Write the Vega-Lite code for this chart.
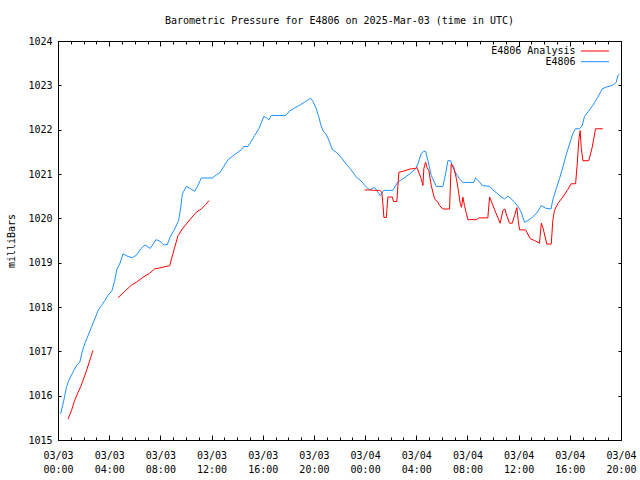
{
  "$schema": "https://vega.github.io/schema/vega-lite/v6.json",
  "autosize": "none",
  "width": 563,
  "height": 399,
  "padding": {"left": 58, "top": 41, "right": 19, "bottom": 40},
  "background": "white",
  "title": {"text": "Barometric Pressure for E4806 on 2025-Mar-03 (time in UTC)", "font": "DejaVu Sans Mono", "fontSize": 10, "fontWeight": "normal", "color": "black", "offset": 10, "anchor": "middle"},
  "config": {
    "view": {"stroke": "black", "strokeWidth": 1},
    "axis": {"grid": false, "domain": false, "labelFont": "DejaVu Sans Mono", "labelFontSize": 10, "labelColor": "black", "titleFont": "DejaVu Sans Mono", "titleFontSize": 10, "titleFontWeight": "normal", "titleColor": "black", "tickColor": "black", "labelOverlap": false, "labelFlush": false},
    "legend": {"labelFont": "DejaVu Sans Mono", "labelFontSize": 10, "labelColor": "black"}
  },
  "data": {"values": [
    {"series":"E4806","seg":"b","hour":0.21,"mbar":1015.59},{"series":"E4806","seg":"b","hour":0.45,"mbar":1015.89},{"series":"E4806","seg":"b","hour":0.66,"mbar":1016.19},{"series":"E4806","seg":"b","hour":0.84,"mbar":1016.34},{"series":"E4806","seg":"b","hour":1.17,"mbar":1016.53},{"series":"E4806","seg":"b","hour":1.44,"mbar":1016.68},{"series":"E4806","seg":"b","hour":1.70,"mbar":1016.75},{"series":"E4806","seg":"b","hour":1.88,"mbar":1016.98},{"series":"E4806","seg":"b","hour":2.09,"mbar":1017.17},{"series":"E4806","seg":"b","hour":2.34,"mbar":1017.35},{"series":"E4806","seg":"b","hour":2.61,"mbar":1017.54},{"series":"E4806","seg":"b","hour":2.87,"mbar":1017.73},{"series":"E4806","seg":"b","hour":3.13,"mbar":1017.92},{"series":"E4806","seg":"b","hour":3.39,"mbar":1018.03},{"series":"E4806","seg":"b","hour":3.65,"mbar":1018.14},{"series":"E4806","seg":"b","hour":3.91,"mbar":1018.26},{"series":"E4806","seg":"b","hour":4.22,"mbar":1018.37},{"series":"E4806","seg":"b","hour":4.43,"mbar":1018.60},{"series":"E4806","seg":"b","hour":4.61,"mbar":1018.86},{"series":"E4806","seg":"b","hour":4.82,"mbar":1018.97},{"series":"E4806","seg":"b","hour":5.08,"mbar":1019.20},{"series":"E4806","seg":"b","hour":5.47,"mbar":1019.14},{"series":"E4806","seg":"b","hour":5.80,"mbar":1019.11},{"series":"E4806","seg":"b","hour":6.13,"mbar":1019.17},{"series":"E4806","seg":"b","hour":6.46,"mbar":1019.31},{"series":"E4806","seg":"b","hour":6.80,"mbar":1019.40},{"series":"E4806","seg":"b","hour":7.20,"mbar":1019.32},{"series":"E4806","seg":"b","hour":7.67,"mbar":1019.52},{"series":"E4806","seg":"b","hour":7.98,"mbar":1019.48},{"series":"E4806","seg":"b","hour":8.27,"mbar":1019.40},{"series":"E4806","seg":"b","hour":8.55,"mbar":1019.41},{"series":"E4806","seg":"b","hour":8.73,"mbar":1019.56},{"series":"E4806","seg":"b","hour":9.12,"mbar":1019.76},{"series":"E4806","seg":"b","hour":9.43,"mbar":1019.95},{"series":"E4806","seg":"b","hour":9.59,"mbar":1020.25},{"series":"E4806","seg":"b","hour":9.72,"mbar":1020.55},{"series":"E4806","seg":"b","hour":10.03,"mbar":1020.72},{"series":"E4806","seg":"b","hour":10.34,"mbar":1020.67},{"series":"E4806","seg":"b","hour":10.68,"mbar":1020.61},{"series":"E4806","seg":"b","hour":10.94,"mbar":1020.74},{"series":"E4806","seg":"b","hour":11.20,"mbar":1020.91},{"series":"E4806","seg":"b","hour":12.06,"mbar":1020.91},{"series":"E4806","seg":"b","hour":12.38,"mbar":1020.98},{"series":"E4806","seg":"b","hour":12.63,"mbar":1021.02},{"series":"E4806","seg":"b","hour":12.89,"mbar":1021.14},{"series":"E4806","seg":"b","hour":13.28,"mbar":1021.32},{"series":"E4806","seg":"b","hour":13.67,"mbar":1021.41},{"series":"E4806","seg":"b","hour":14.06,"mbar":1021.49},{"series":"E4806","seg":"b","hour":14.35,"mbar":1021.55},{"series":"E4806","seg":"b","hour":14.51,"mbar":1021.62},{"series":"E4806","seg":"b","hour":14.84,"mbar":1021.62},{"series":"E4806","seg":"b","hour":15.11,"mbar":1021.74},{"series":"E4806","seg":"b","hour":15.37,"mbar":1021.87},{"series":"E4806","seg":"b","hour":15.70,"mbar":1022.02},{"series":"E4806","seg":"b","hour":16.09,"mbar":1022.30},{"series":"E4806","seg":"b","hour":16.28,"mbar":1022.27},{"series":"E4806","seg":"b","hour":16.48,"mbar":1022.22},{"series":"E4806","seg":"b","hour":16.67,"mbar":1022.32},{"series":"E4806","seg":"b","hour":17.79,"mbar":1022.32},{"series":"E4806","seg":"b","hour":18.10,"mbar":1022.42},{"series":"E4806","seg":"b","hour":18.49,"mbar":1022.49},{"series":"E4806","seg":"b","hour":18.88,"mbar":1022.55},{"series":"E4806","seg":"b","hour":19.27,"mbar":1022.62},{"series":"E4806","seg":"b","hour":19.74,"mbar":1022.71},{"series":"E4806","seg":"b","hour":19.92,"mbar":1022.64},{"series":"E4806","seg":"b","hour":20.19,"mbar":1022.47},{"series":"E4806","seg":"b","hour":20.39,"mbar":1022.28},{"series":"E4806","seg":"b","hour":20.52,"mbar":1022.13},{"series":"E4806","seg":"b","hour":20.70,"mbar":1021.98},{"series":"E4806","seg":"b","hour":20.97,"mbar":1021.89},{"series":"E4806","seg":"b","hour":21.17,"mbar":1021.76},{"series":"E4806","seg":"b","hour":21.44,"mbar":1021.55},{"series":"E4806","seg":"b","hour":21.75,"mbar":1021.49},{"series":"E4806","seg":"b","hour":22.14,"mbar":1021.37},{"series":"E4806","seg":"b","hour":22.53,"mbar":1021.22},{"series":"E4806","seg":"b","hour":22.92,"mbar":1021.09},{"series":"E4806","seg":"b","hour":23.31,"mbar":1020.93},{"series":"E4806","seg":"b","hour":23.70,"mbar":1020.84},{"series":"E4806","seg":"b","hour":24.04,"mbar":1020.72},{"series":"E4806","seg":"b","hour":24.35,"mbar":1020.64},{"series":"E4806","seg":"b","hour":24.74,"mbar":1020.70},{"series":"E4806","seg":"b","hour":25.00,"mbar":1020.59},{"series":"E4806","seg":"b","hour":25.19,"mbar":1020.51},{"series":"E4806","seg":"b","hour":25.45,"mbar":1020.63},{"series":"E4806","seg":"b","hour":26.17,"mbar":1020.63},{"series":"E4806","seg":"b","hour":26.56,"mbar":1020.82},{"series":"E4806","seg":"b","hour":26.95,"mbar":1020.89},{"series":"E4806","seg":"b","hour":27.48,"mbar":1021.00},{"series":"E4806","seg":"b","hour":27.95,"mbar":1021.12},{"series":"E4806","seg":"b","hour":28.13,"mbar":1021.23},{"series":"E4806","seg":"b","hour":28.39,"mbar":1021.46},{"series":"E4806","seg":"b","hour":28.57,"mbar":1021.51},{"series":"E4806","seg":"b","hour":28.73,"mbar":1021.51},{"series":"E4806","seg":"b","hour":28.91,"mbar":1021.30},{"series":"E4806","seg":"b","hour":29.17,"mbar":1020.97},{"series":"E4806","seg":"b","hour":29.56,"mbar":1020.72},{"series":"E4806","seg":"b","hour":30.08,"mbar":1020.72},{"series":"E4806","seg":"b","hour":30.29,"mbar":1021.00},{"series":"E4806","seg":"b","hour":30.47,"mbar":1021.30},{"series":"E4806","seg":"b","hour":30.68,"mbar":1021.30},{"series":"E4806","seg":"b","hour":30.86,"mbar":1021.15},{"series":"E4806","seg":"b","hour":31.13,"mbar":1021.00},{"series":"E4806","seg":"b","hour":31.38,"mbar":1020.89},{"series":"E4806","seg":"b","hour":31.64,"mbar":1020.81},{"series":"E4806","seg":"b","hour":32.48,"mbar":1020.81},{"series":"E4806","seg":"b","hour":32.63,"mbar":1020.91},{"series":"E4806","seg":"b","hour":32.89,"mbar":1020.84},{"series":"E4806","seg":"b","hour":33.16,"mbar":1020.74},{"series":"E4806","seg":"b","hour":33.73,"mbar":1020.72},{"series":"E4806","seg":"b","hour":33.98,"mbar":1020.64},{"series":"E4806","seg":"b","hour":34.38,"mbar":1020.55},{"series":"E4806","seg":"b","hour":34.64,"mbar":1020.48},{"series":"E4806","seg":"b","hour":34.90,"mbar":1020.44},{"series":"E4806","seg":"b","hour":35.16,"mbar":1020.50},{"series":"E4806","seg":"b","hour":35.42,"mbar":1020.44},{"series":"E4806","seg":"b","hour":35.68,"mbar":1020.36},{"series":"E4806","seg":"b","hour":35.94,"mbar":1020.27},{"series":"E4806","seg":"b","hour":36.20,"mbar":1020.14},{"series":"E4806","seg":"b","hour":36.46,"mbar":1019.91},{"series":"E4806","seg":"b","hour":36.72,"mbar":1019.95},{"series":"E4806","seg":"b","hour":37.06,"mbar":1020.02},{"series":"E4806","seg":"b","hour":37.42,"mbar":1020.12},{"series":"E4806","seg":"b","hour":37.77,"mbar":1020.29},{"series":"E4806","seg":"b","hour":38.10,"mbar":1020.23},{"series":"E4806","seg":"b","hour":38.53,"mbar":1020.21},{"series":"E4806","seg":"b","hour":38.67,"mbar":1020.42},{"series":"E4806","seg":"b","hour":38.94,"mbar":1020.67},{"series":"E4806","seg":"b","hour":39.20,"mbar":1020.90},{"series":"E4806","seg":"b","hour":39.47,"mbar":1021.17},{"series":"E4806","seg":"b","hour":39.72,"mbar":1021.44},{"series":"E4806","seg":"b","hour":40.03,"mbar":1021.72},{"series":"E4806","seg":"b","hour":40.23,"mbar":1021.91},{"series":"E4806","seg":"b","hour":40.45,"mbar":1022.02},{"series":"E4806","seg":"b","hour":40.76,"mbar":1022.02},{"series":"E4806","seg":"b","hour":40.97,"mbar":1022.09},{"series":"E4806","seg":"b","hour":41.15,"mbar":1022.30},{"series":"E4806","seg":"b","hour":41.41,"mbar":1022.40},{"series":"E4806","seg":"b","hour":41.80,"mbar":1022.55},{"series":"E4806","seg":"b","hour":42.19,"mbar":1022.73},{"series":"E4806","seg":"b","hour":42.53,"mbar":1022.92},{"series":"E4806","seg":"b","hour":42.84,"mbar":1022.96},{"series":"E4806","seg":"b","hour":43.36,"mbar":1023.00},{"series":"E4806","seg":"b","hour":43.63,"mbar":1023.07},{"series":"E4806","seg":"b","hour":43.75,"mbar":1023.22},{"series":"E4806","seg":"b","hour":43.89,"mbar":1023.25},
    {"series":"E4806 Analysis","seg":"r1","hour":0.78,"mbar":1015.47},{"series":"E4806 Analysis","seg":"r1","hour":1.05,"mbar":1015.66},{"series":"E4806 Analysis","seg":"r1","hour":1.30,"mbar":1015.89},{"series":"E4806 Analysis","seg":"r1","hour":1.56,"mbar":1016.07},{"series":"E4806 Analysis","seg":"r1","hour":1.77,"mbar":1016.20},{"series":"E4806 Analysis","seg":"r1","hour":1.95,"mbar":1016.34},{"series":"E4806 Analysis","seg":"r1","hour":2.22,"mbar":1016.56},{"series":"E4806 Analysis","seg":"r1","hour":2.48,"mbar":1016.79},{"series":"E4806 Analysis","seg":"r1","hour":2.73,"mbar":1017.02},
    {"series":"E4806 Analysis","seg":"r2","hour":4.69,"mbar":1018.21},{"series":"E4806 Analysis","seg":"r2","hour":5.21,"mbar":1018.35},{"series":"E4806 Analysis","seg":"r2","hour":5.73,"mbar":1018.49},{"series":"E4806 Analysis","seg":"r2","hour":6.13,"mbar":1018.56},{"series":"E4806 Analysis","seg":"r2","hour":6.64,"mbar":1018.67},{"series":"E4806 Analysis","seg":"r2","hour":7.16,"mbar":1018.76},{"series":"E4806 Analysis","seg":"r2","hour":7.55,"mbar":1018.86},{"series":"E4806 Analysis","seg":"r2","hour":7.95,"mbar":1018.88},{"series":"E4806 Analysis","seg":"r2","hour":8.34,"mbar":1018.91},{"series":"E4806 Analysis","seg":"r2","hour":8.73,"mbar":1018.93},{"series":"E4806 Analysis","seg":"r2","hour":8.98,"mbar":1019.20},{"series":"E4806 Analysis","seg":"r2","hour":9.38,"mbar":1019.61},{"series":"E4806 Analysis","seg":"r2","hour":9.72,"mbar":1019.76},{"series":"E4806 Analysis","seg":"r2","hour":10.08,"mbar":1019.89},{"series":"E4806 Analysis","seg":"r2","hour":10.42,"mbar":1020.01},{"series":"E4806 Analysis","seg":"r2","hour":10.81,"mbar":1020.14},{"series":"E4806 Analysis","seg":"r2","hour":11.20,"mbar":1020.21},{"series":"E4806 Analysis","seg":"r2","hour":11.54,"mbar":1020.31},{"series":"E4806 Analysis","seg":"r2","hour":11.80,"mbar":1020.40},
    {"series":"E4806 Analysis","seg":"r3","hour":23.96,"mbar":1020.64},{"series":"E4806 Analysis","seg":"r3","hour":24.35,"mbar":1020.64},{"series":"E4806 Analysis","seg":"r3","hour":24.74,"mbar":1020.63},{"series":"E4806 Analysis","seg":"r3","hour":25.13,"mbar":1020.63},{"series":"E4806 Analysis","seg":"r3","hour":25.31,"mbar":1020.59},{"series":"E4806 Analysis","seg":"r3","hour":25.39,"mbar":1020.33},{"series":"E4806 Analysis","seg":"r3","hour":25.47,"mbar":1020.02},{"series":"E4806 Analysis","seg":"r3","hour":25.66,"mbar":1020.02},{"series":"E4806 Analysis","seg":"r3","hour":25.78,"mbar":1020.48},{"series":"E4806 Analysis","seg":"r3","hour":26.13,"mbar":1020.48},{"series":"E4806 Analysis","seg":"r3","hour":26.23,"mbar":1020.38},{"series":"E4806 Analysis","seg":"r3","hour":26.48,"mbar":1020.38},{"series":"E4806 Analysis","seg":"r3","hour":26.64,"mbar":1021.04},{"series":"E4806 Analysis","seg":"r3","hour":26.95,"mbar":1021.06},{"series":"E4806 Analysis","seg":"r3","hour":27.27,"mbar":1021.09},{"series":"E4806 Analysis","seg":"r3","hour":27.61,"mbar":1021.12},{"series":"E4806 Analysis","seg":"r3","hour":27.95,"mbar":1021.12},{"series":"E4806 Analysis","seg":"r3","hour":28.05,"mbar":1021.15},{"series":"E4806 Analysis","seg":"r3","hour":28.39,"mbar":1020.89},{"series":"E4806 Analysis","seg":"r3","hour":28.52,"mbar":1020.74},{"series":"E4806 Analysis","seg":"r3","hour":28.59,"mbar":1021.12},{"series":"E4806 Analysis","seg":"r3","hour":28.73,"mbar":1021.27},{"series":"E4806 Analysis","seg":"r3","hour":28.83,"mbar":1021.15},{"series":"E4806 Analysis","seg":"r3","hour":28.98,"mbar":1021.08},{"series":"E4806 Analysis","seg":"r3","hour":29.17,"mbar":1020.74},{"series":"E4806 Analysis","seg":"r3","hour":29.43,"mbar":1020.44},{"series":"E4806 Analysis","seg":"r3","hour":29.69,"mbar":1020.36},{"series":"E4806 Analysis","seg":"r3","hour":29.82,"mbar":1020.29},{"series":"E4806 Analysis","seg":"r3","hour":30.08,"mbar":1020.21},{"series":"E4806 Analysis","seg":"r3","hour":30.60,"mbar":1020.21},{"series":"E4806 Analysis","seg":"r3","hour":30.73,"mbar":1021.23},{"series":"E4806 Analysis","seg":"r3","hour":30.91,"mbar":1021.17},{"series":"E4806 Analysis","seg":"r3","hour":31.13,"mbar":1020.90},{"series":"E4806 Analysis","seg":"r3","hour":31.25,"mbar":1020.70},{"series":"E4806 Analysis","seg":"r3","hour":31.44,"mbar":1020.33},{"series":"E4806 Analysis","seg":"r3","hour":31.54,"mbar":1020.25},{"series":"E4806 Analysis","seg":"r3","hour":31.64,"mbar":1020.48},{"series":"E4806 Analysis","seg":"r3","hour":31.77,"mbar":1020.29},{"series":"E4806 Analysis","seg":"r3","hour":32.03,"mbar":1019.97},{"series":"E4806 Analysis","seg":"r3","hour":32.69,"mbar":1019.97},{"series":"E4806 Analysis","seg":"r3","hour":32.89,"mbar":1020.01},{"series":"E4806 Analysis","seg":"r3","hour":33.59,"mbar":1020.01},{"series":"E4806 Analysis","seg":"r3","hour":33.73,"mbar":1020.48},{"series":"E4806 Analysis","seg":"r3","hour":33.94,"mbar":1020.33},{"series":"E4806 Analysis","seg":"r3","hour":34.25,"mbar":1020.10},{"series":"E4806 Analysis","seg":"r3","hour":34.56,"mbar":1019.89},{"series":"E4806 Analysis","seg":"r3","hour":34.77,"mbar":1020.18},{"series":"E4806 Analysis","seg":"r3","hour":34.92,"mbar":1020.21},{"series":"E4806 Analysis","seg":"r3","hour":35.03,"mbar":1020.10},{"series":"E4806 Analysis","seg":"r3","hour":35.29,"mbar":1019.89},{"series":"E4806 Analysis","seg":"r3","hour":35.50,"mbar":1019.89},{"series":"E4806 Analysis","seg":"r3","hour":35.68,"mbar":1020.06},{"series":"E4806 Analysis","seg":"r3","hour":35.86,"mbar":1020.24},{"series":"E4806 Analysis","seg":"r3","hour":35.97,"mbar":1019.95},{"series":"E4806 Analysis","seg":"r3","hour":36.07,"mbar":1019.74},{"series":"E4806 Analysis","seg":"r3","hour":36.54,"mbar":1019.74},{"series":"E4806 Analysis","seg":"r3","hour":36.91,"mbar":1019.54},{"series":"E4806 Analysis","seg":"r3","hour":37.24,"mbar":1019.50},{"series":"E4806 Analysis","seg":"r3","hour":37.63,"mbar":1019.44},{"series":"E4806 Analysis","seg":"r3","hour":37.77,"mbar":1019.89},{"series":"E4806 Analysis","seg":"r3","hour":37.89,"mbar":1019.80},{"series":"E4806 Analysis","seg":"r3","hour":38.20,"mbar":1019.42},{"series":"E4806 Analysis","seg":"r3","hour":38.55,"mbar":1019.42},{"series":"E4806 Analysis","seg":"r3","hour":38.67,"mbar":1019.95},{"series":"E4806 Analysis","seg":"r3","hour":38.80,"mbar":1020.18},{"series":"E4806 Analysis","seg":"r3","hour":39.06,"mbar":1020.33},{"series":"E4806 Analysis","seg":"r3","hour":39.45,"mbar":1020.48},{"series":"E4806 Analysis","seg":"r3","hour":39.84,"mbar":1020.65},{"series":"E4806 Analysis","seg":"r3","hour":40.11,"mbar":1020.78},{"series":"E4806 Analysis","seg":"r3","hour":40.45,"mbar":1020.78},{"series":"E4806 Analysis","seg":"r3","hour":40.58,"mbar":1021.23},{"series":"E4806 Analysis","seg":"r3","hour":40.70,"mbar":1021.76},{"series":"E4806 Analysis","seg":"r3","hour":40.81,"mbar":1021.98},{"series":"E4806 Analysis","seg":"r3","hour":40.89,"mbar":1021.60},{"series":"E4806 Analysis","seg":"r3","hour":41.02,"mbar":1021.30},{"series":"E4806 Analysis","seg":"r3","hour":41.48,"mbar":1021.30},{"series":"E4806 Analysis","seg":"r3","hour":41.75,"mbar":1021.60},{"series":"E4806 Analysis","seg":"r3","hour":42.01,"mbar":1022.02},{"series":"E4806 Analysis","seg":"r3","hour":42.58,"mbar":1022.02}
  ]},
  "layer": [
    {
      "mark": {"type": "line", "strokeWidth": 1, "interpolate": "linear"},
      "encoding": {
        "x": {"field": "hour", "type": "quantitative", "scale": {"domain": [0, 44], "nice": false, "zero": false},
          "axis": {"orient": "bottom", "title": null, "values": [0,4,8,12,16,20,24,28,32,36,40,44],
            "offset": -5, "tickSize": 5, "labelPadding": 10,
            "labelExpr": "[datum.value < 24 ? '03/03' : '03/04', (datum.value % 24 < 10 ? '0' : '') + (datum.value % 24) + ':00']",
            "labelLineHeight": 14.5}},
        "y": {"field": "mbar", "type": "quantitative", "scale": {"domain": [1015, 1024], "nice": false, "zero": false},
          "axis": {"orient": "left", "title": "milliBars", "values": [1015,1016,1017,1018,1019,1020,1021,1022,1023,1024], "offset": -3, "tickSize": 3, "labelPadding": 6, "format": "d", "titlePadding": 11}},
        "color": {"field": "series", "type": "nominal",
          "scale": {"domain": ["E4806 Analysis", "E4806"], "range": ["#ff0000", "#1e90ff"]},
          "legend": {"title": null, "orient": "none", "legendX": 532, "legendY": 5, "symbolType": "M-4,0H4", "symbolSize": 49, "symbolStrokeWidth": 1, "labelAlign": "right", "labelOffset": -24.5, "padding": 0, "rowPadding": 0.7}},
        "detail": {"field": "seg", "type": "nominal"}
      }
    },
    {
      "mark": {"type": "point", "opacity": 0},
      "encoding": {
        "x": {"field": "hour", "type": "quantitative",
          "axis": {"orient": "bottom", "title": null, "labels": false, "values": [0,1,2,3,4,5,6,7,8,9,10,11,12,13,14,15,16,17,18,19,20,21,22,23,24,25,26,27,28,29,30,31,32,33,34,35,36,37,38,39,40,41,42,43,44], "offset": -3, "tickSize": 3}},
        "y": {"field": "mbar", "type": "quantitative",
          "axis": {"orient": "right", "title": null, "labels": false, "values": [1015,1016,1017,1018,1019,1020,1021,1022,1023,1024], "offset": -3, "tickSize": 3}}
      }
    },
    {
      "mark": {"type": "point", "opacity": 0},
      "encoding": {
        "x": {"field": "hour", "type": "quantitative",
          "axis": {"orient": "top", "title": null, "labels": false, "values": [0,4,8,12,16,20,24,28,32,36,40,44], "offset": -5, "tickSize": 5}},
        "y": {"field": "mbar", "type": "quantitative", "axis": null}
      }
    },
    {
      "mark": {"type": "point", "opacity": 0},
      "encoding": {
        "x": {"field": "hour", "type": "quantitative",
          "axis": {"orient": "top", "title": null, "labels": false, "values": [0,1,2,3,4,5,6,7,8,9,10,11,12,13,14,15,16,17,18,19,20,21,22,23,24,25,26,27,28,29,30,31,32,33,34,35,36,37,38,39,40,41,42,43,44], "offset": -3, "tickSize": 3}},
        "y": {"field": "mbar", "type": "quantitative", "axis": null}
      }
    }
  ],
  "resolve": {"axis": {"x": "independent", "y": "independent"}}
}
